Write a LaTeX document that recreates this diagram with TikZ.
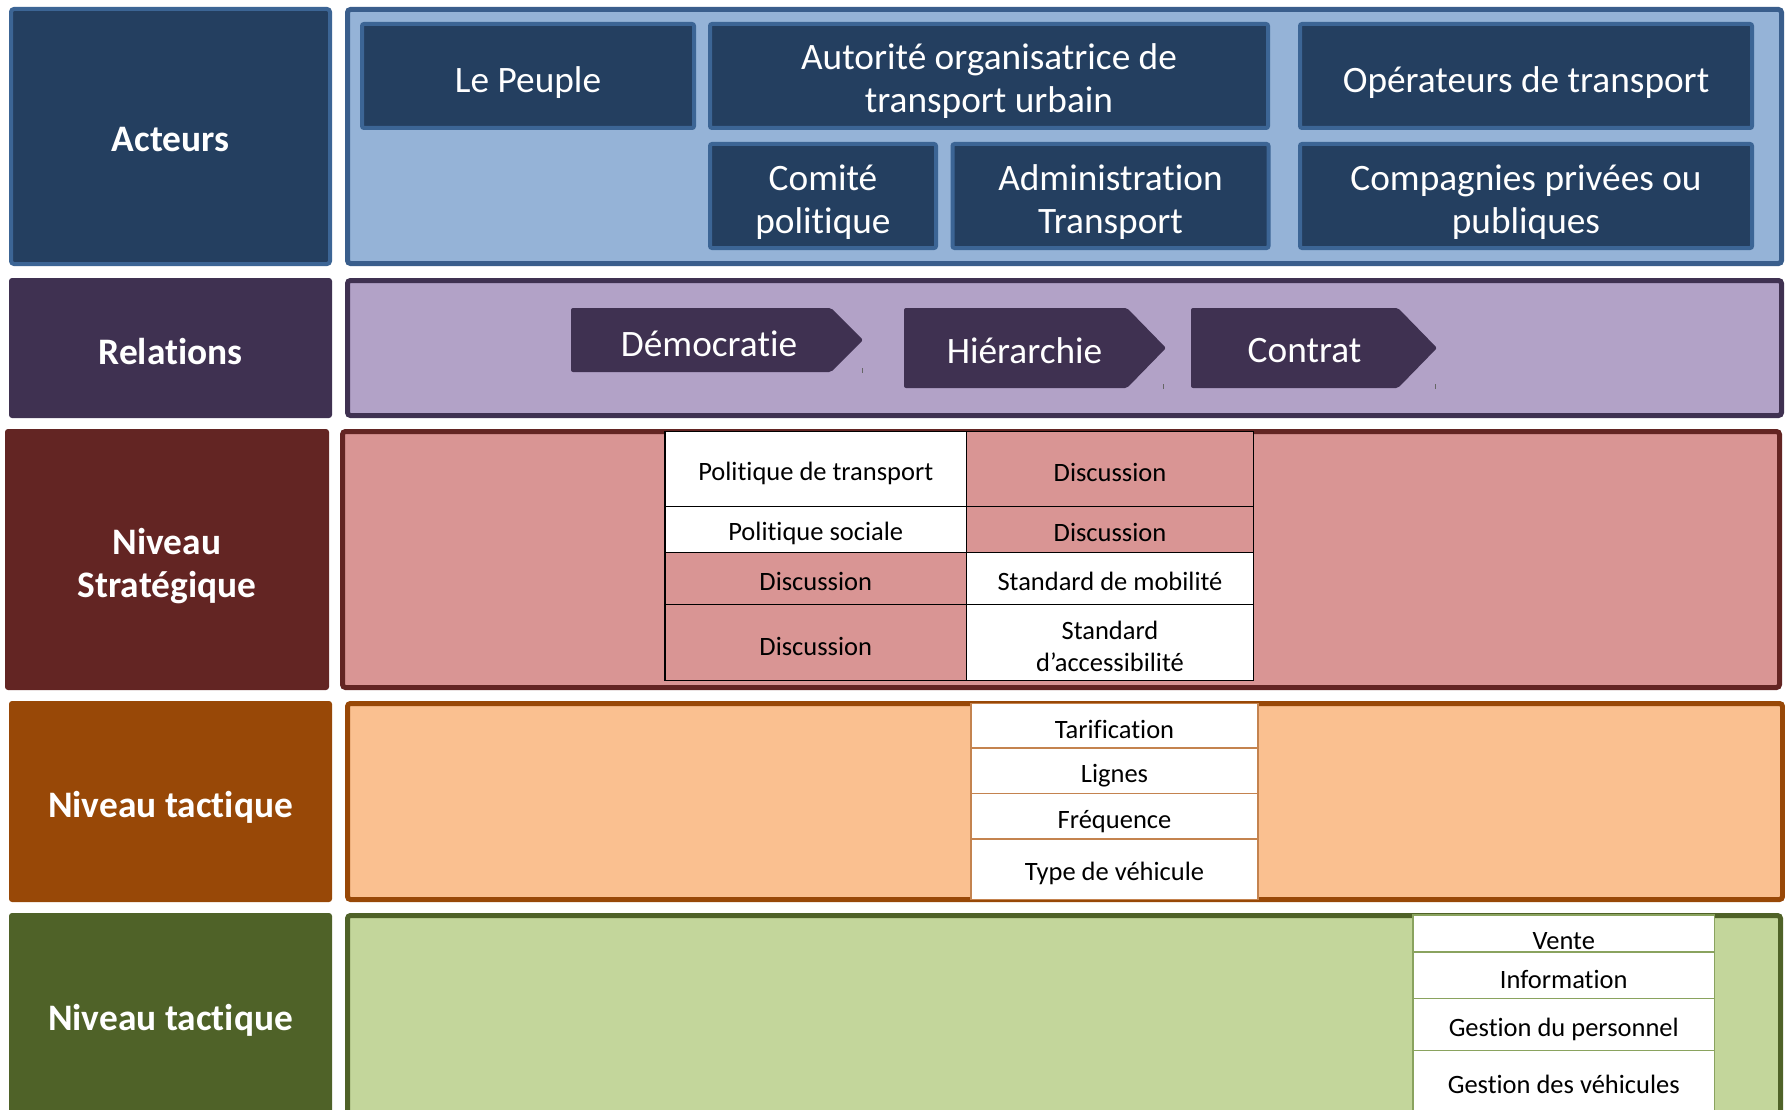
\documentclass[tikz,border=0pt]{standalone}
\usepackage{fontspec}
\setmainfont{Carlito}[Ligatures=NoCommon]
\definecolor{navy}{HTML}{243F60}
\definecolor{navyline}{HTML}{3C6595}
\definecolor{ltblue}{HTML}{95B3D7}
\definecolor{blueline}{HTML}{3A5E8C}
\definecolor{purple}{HTML}{3F3151}
\definecolor{ltpurple}{HTML}{B2A2C7}
\definecolor{darkred}{HTML}{632523}
\definecolor{pink}{HTML}{D99594}
\definecolor{brown}{HTML}{984807}
\definecolor{peach}{HTML}{FAC090}
\definecolor{olive}{HTML}{4F6228}
\definecolor{ltgreen}{HTML}{C3D69B}
\definecolor{tline}{HTML}{C4834F}
\definecolor{gline}{HTML}{8AA35F}
\begin{document}
\begin{tikzpicture}[x=1pt,y=-1pt,
  every node/.style={inner sep=0pt,outer sep=0pt},
  big/.style={font=\fontsize{37.3}{43}\selectfont,text=white,align=center},
  bigb/.style={font=\fontsize{37.4}{43}\selectfont\bfseries,text=white,align=center},
  small/.style={font=\fontsize{26.5}{32}\selectfont,text=black,align=center},
  lbl/.style={rounded corners=3pt},
  panel/.style={line width=5pt,rounded corners=3pt},
  actor/.style={fill=navy,draw=navyline,line width=4pt,rounded corners=2pt},
  arrowshape/.style={fill=purple,rounded corners=2pt},
  scell/.style={draw=black,line width=1.2pt},
  tcell/.style={draw=tline,line width=1.2pt,fill=white},
  gcell/.style={draw=gline,line width=1.2pt,fill=white},
  tick/.style={draw=black!60,line width=1pt}
]
\clip (0,0) rectangle (1785,1110);
\fill[white] (0,0) rectangle (1785,1110);

% ---------- left labels ----------
\node[lbl,fill=navy,draw=navyline,line width=4pt,minimum width=319pt,minimum height=255pt] (acteurs) at (170.5,136.5) {};
\node[lbl,fill=purple,minimum width=323pt,minimum height=140pt] (relations) at (170.5,348) {};
\node[lbl,fill=darkred,minimum width=324pt,minimum height=261pt] (strat) at (167,559.5) {};
\node[lbl,fill=brown,minimum width=323pt,minimum height=201pt] (tact) at (170.5,801.5) {};
\node[lbl,fill=olive,minimum width=323pt,minimum height=207pt] (oper) at (170.5,1016.5) {};
\node[bigb,yshift=-3.5pt] (acteurs-t) at (acteurs) {Acteurs};
\node[bigb,yshift=-3.5pt] (relations-t) at (relations) {Relations};
\node[bigb,yshift=-6.5pt] (strat-t) at (strat) {Niveau\\Stratégique};
\node[bigb,yshift=-6pt] (tact-t) at (tact) {Niveau tactique};
\node[bigb,yshift=-3.5pt] (oper-t) at (oper) {Niveau tactique};

% ---------- panels ----------
\node[panel,fill=ltblue,draw=blueline,minimum width=1434pt,minimum height=254pt] (p1) at (1064.5,136.5) {};
\node[panel,fill=ltpurple,draw=purple,minimum width=1434pt,minimum height=135pt] (p2) at (1064.5,348) {};
\node[panel,fill=pink,draw=darkred,minimum width=1437pt,minimum height=256pt] (p3) at (1061,559.5) {};
\node[panel,fill=peach,draw=brown,minimum width=1435pt,minimum height=196pt] (p4) at (1065,801.5) {};
\node[panel,fill=ltgreen,draw=olive,minimum width=1433pt,minimum height=202pt] (p5) at (1064,1016.5) {};

% ---------- actors ----------
\node[actor,minimum width=332pt,minimum height=104pt] (peuple) at (528,76) {};
\node[actor,minimum width=558pt,minimum height=104pt] (aotu) at (989,76) {};
\node[actor,minimum width=452pt,minimum height=104pt] (operateurs) at (1526,76) {};
\node[actor,minimum width=226pt,minimum height=104pt] (comite) at (823,196) {};
\node[actor,minimum width=316pt,minimum height=104pt] (admin) at (1110.5,196) {};
\node[actor,minimum width=452pt,minimum height=104pt] (compagnies) at (1526,196) {};
\node[big,yshift=-6.5pt] (peuple-t) at (peuple) {Le Peuple};
\node[big,yshift=-5pt] (aotu-t) at (aotu) {Autorité organisatrice de\\transport urbain};
\node[big,yshift=-6.5pt] (operateurs-t) at (operateurs) {Opérateurs de transport};
\node[big,yshift=-6.5pt] (comite-t) at (comite) {Comité\\politique};
\node[big,yshift=-6.5pt] (admin-t) at (admin) {Administration\\Transport};
\node[big,yshift=-6.5pt] (compagnies-t) at (compagnies) {Compagnies privées ou\\publiques};

% ---------- relations (pentagon arrows) ----------
\fill[arrowshape] (571,308) -- (831,308) -- (863,340) -- (831,372) -- (571,372) -- cycle;
\fill[arrowshape] (904,308) -- (1127,308) -- (1166,348) -- (1127,388) -- (904,388) -- cycle;
\fill[arrowshape] (1191,308) -- (1398,308) -- (1437,348) -- (1398,388) -- (1191,388) -- cycle;
\node[big] (demo) at (709,344) {Démocratie};
\node[big] (hier) at (1024.5,351) {Hiérarchie};
\node[big] (contrat) at (1304.5,351) {Contrat};
\coordinate (k1a) at (862,368); \coordinate (k1b) at (862,373);
\coordinate (k2a) at (1163,384); \coordinate (k2b) at (1163,389);
\coordinate (k3a) at (1435.5,384); \coordinate (k3b) at (1435.5,389);
\draw[tick] (k1a) -- (k1b);
\draw[tick] (k2a) -- (k2b);
\draw[tick] (k3a) -- (k3b);

% ---------- strategic table ----------
\node[scell,fill=white,minimum width=301.5pt,minimum height=75.1pt] (s11) at (815.75,469.05) {};
\node[scell,fill=pink,minimum width=287pt,minimum height=75.1pt] (s12) at (1110,469.05) {};
\node[scell,fill=white,minimum width=301.5pt,minimum height=45.5pt] (s21) at (815.75,529.35) {};
\node[scell,fill=pink,minimum width=287pt,minimum height=45.5pt] (s22) at (1110,529.35) {};
\node[scell,fill=pink,minimum width=301.5pt,minimum height=52.4pt] (s31) at (815.75,578.3) {};
\node[scell,fill=white,minimum width=287pt,minimum height=52.4pt] (s32) at (1110,578.3) {};
\node[scell,fill=pink,minimum width=301.5pt,minimum height=76.3pt] (s41) at (815.75,642.65) {};
\node[scell,fill=white,minimum width=287pt,minimum height=76.3pt] (s42) at (1110,642.65) {};
\node[small,yshift=-4pt] (s11-t) at (s11) {Politique de transport};
\node[small,yshift=-3pt] (s12-t) at (s12) {Discussion};
\node[small,yshift=-4pt] (s21-t) at (s21) {Politique sociale};
\node[small,yshift=-3pt] (s22-t) at (s22) {Discussion};
\node[small,yshift=-3.5pt] (s31-t) at (s31) {Discussion};
\node[small,yshift=-3.5pt] (s32-t) at (s32) {Standard de mobilité};
\node[small,yshift=-3.5pt] (s41-t) at (s41) {Discussion};
\node[small,yshift=-3.5pt] (s42-t) at (s42) {Standard\\d’accessibilité};

% ---------- tactical table ----------
\node[tcell,minimum width=287pt,minimum height=44.5pt] (t1) at (1114.5,725.75) {};
\node[tcell,minimum width=287pt,minimum height=45.5pt] (t2) at (1114.5,770.75) {};
\node[tcell,minimum width=287pt,minimum height=45.5pt] (t3) at (1114.5,816.25) {};
\node[tcell,minimum width=287pt,minimum height=60.3pt] (t4) at (1114.5,869.15) {};
\node[small,yshift=-3.5pt] (t1-t) at (t1) {Tarification};
\node[small,yshift=-5pt] (t2-t) at (t2) {Lignes};
\node[small,yshift=-5pt] (t3-t) at (t3) {Fréquence};
\node[small,yshift=-4.5pt] (t4-t) at (t4) {Type de véhicule};

% ---------- operational table ----------
\node[gcell,minimum width=301.5pt,minimum height=37pt] (g1) at (1563.75,933.5) {};
\node[gcell,minimum width=301.5pt,minimum height=46.4pt] (g2) at (1563.75,975.2) {};
\node[gcell,minimum width=301.5pt,minimum height=52.4pt] (g3) at (1563.75,1024.6) {};
\node[gcell,minimum width=301.5pt,minimum height=74.2pt] (g4) at (1563.75,1087.9) {};
\node[small] (gt1) at (1563.75,941) {Vente};
\node[small] (gt2) at (1563.75,979) {Information};
\node[small] (gt3) at (1563.75,1029) {Gestion du personnel};
\node[small] (gt4) at (1563.75,1084.5) {Gestion des véhicules};
\end{tikzpicture}
\end{document}
